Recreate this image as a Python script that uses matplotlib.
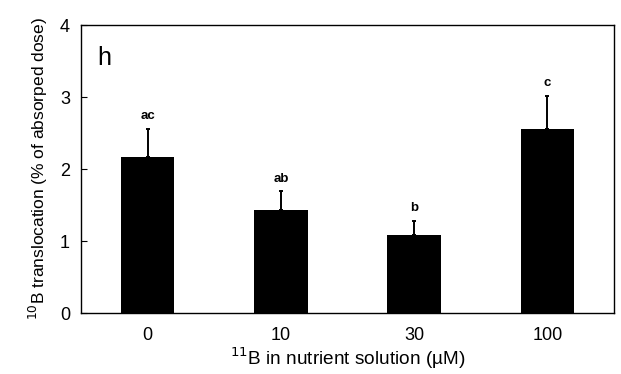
import numpy as np
import matplotlib
matplotlib.use("Agg")
import matplotlib.pyplot as plt

plt.rcParams['font.family'] = ['Liberation Sans', 'DejaVu Sans']

# data
conc_labels = ['0', '10', '30', '100']
translocation = [2.17, 1.43, 1.08, 2.56]
sd = [0.39, 0.26, 0.20, 0.46]
letters = ['ac', 'ab', 'b', 'c']

fig = plt.figure(figsize=(6.21, 3.74), dpi=100)
ax = fig.add_axes([81 / 621, 1 - 313 / 374, 533 / 621, 288 / 374])

x = np.arange(len(conc_labels))
ax.bar(x, translocation, width=0.4, color='black', zorder=2)
ax.errorbar(x, translocation, yerr=[np.zeros(len(sd)), sd], fmt='none',
            ecolor='black', elinewidth=1.4, capsize=1.5, capthick=1.4, zorder=3)

for xi, v, e, lab in zip(x, translocation, sd, letters):
    ax.text(xi, v + e + 0.09, lab, ha='center', va='bottom', fontsize=9.5,
            fontweight='bold')

ax.text(0.03, 0.862, 'h', transform=ax.transAxes, fontsize=18, ha='left', va='baseline')

ax.set_xlim(-0.5, 3.5)
ax.set_ylim(0, 4)
ax.set_yticks([0, 1, 2, 3, 4])
ax.set_xticks(x)
ax.set_xticklabels(conc_labels)
ax.tick_params(axis='y', direction='in', length=4, labelsize=13, pad=8)
ax.tick_params(axis='x', length=0, labelsize=13, pad=10)
for s in ax.spines.values():
    s.set_linewidth(1.0)

ax.set_xlabel(r'$^{11}$B in nutrient solution (µM)', fontsize=13.7, labelpad=1)
ax.set_ylabel(r'$^{10}$B translocation (% of absorped dose)', fontsize=12.5, labelpad=7)

fig.savefig('out.png', dpi=100)
